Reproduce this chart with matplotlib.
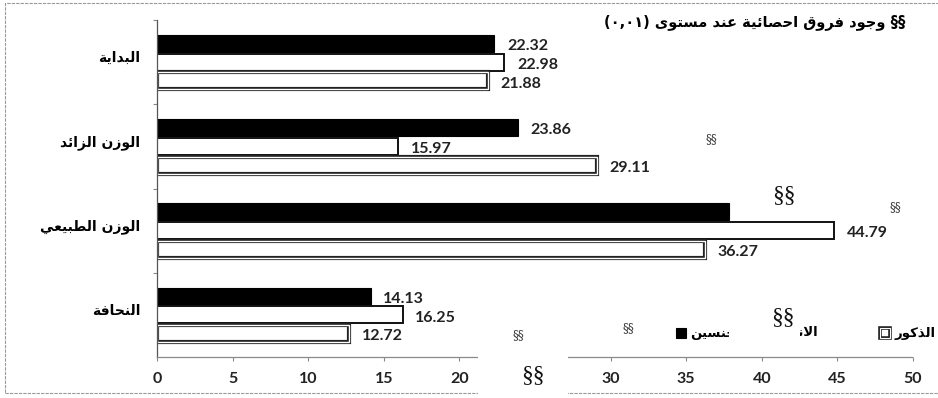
import numpy as np
import matplotlib
matplotlib.use("Agg")
import matplotlib.pyplot as plt
from matplotlib.patches import Rectangle
from matplotlib.transforms import blended_transform_factory

# weight classes, top to bottom
categories = ["البداية", "الوزن الزائد", "الوزن الطبيعي", "النحافة"]
both = [22.32, 23.86, 37.8, 14.13]
females = [22.98, 15.97, 44.79, 16.25]
males = [21.88, 29.11, 36.27, 12.72]
hidden_both_label = [False, False, True, False]
xticks = [0, 5, 10, 15, 20, 25, 30, 35, 40, 45, 50]
xtick_labels = ["0", "5", "10", "15", "20", "", "30", "35", "40", "45", "50"]

legend_names = ["الجنسين", "الاناث", "الذكور"]
note = "§§ وجود فروق احصائية عند مستوى (٠,٠١)"

W, H = 938, 398

# minimal Arabic shaping: isolated, final, initial, medial
FORMS = {
    "ا": ("\uFE8D", "\uFE8E", None, None),
    "إ": ("\uFE87", "\uFE88", None, None),
    "ب": ("\uFE8F", "\uFE90", "\uFE91", "\uFE92"),
    "ة": ("\uFE93", "\uFE94", None, None),
    "ت": ("\uFE95", "\uFE96", "\uFE97", "\uFE98"),
    "ث": ("\uFE99", "\uFE9A", "\uFE9B", "\uFE9C"),
    "ج": ("\uFE9D", "\uFE9E", "\uFE9F", "\uFEA0"),
    "ح": ("\uFEA1", "\uFEA2", "\uFEA3", "\uFEA4"),
    "د": ("\uFEA9", "\uFEAA", None, None),
    "ذ": ("\uFEAB", "\uFEAC", None, None),
    "ر": ("\uFEAD", "\uFEAE", None, None),
    "ز": ("\uFEAF", "\uFEB0", None, None),
    "س": ("\uFEB1", "\uFEB2", "\uFEB3", "\uFEB4"),
    "ص": ("\uFEB9", "\uFEBA", "\uFEBB", "\uFEBC"),
    "ط": ("\uFEC1", "\uFEC2", "\uFEC3", "\uFEC4"),
    "ع": ("\uFEC9", "\uFECA", "\uFECB", "\uFECC"),
    "ف": ("\uFED1", "\uFED2", "\uFED3", "\uFED4"),
    "ق": ("\uFED5", "\uFED6", "\uFED7", "\uFED8"),
    "ك": ("\uFED9", "\uFEDA", "\uFEDB", "\uFEDC"),
    "ل": ("\uFEDD", "\uFEDE", "\uFEDF", "\uFEE0"),
    "م": ("\uFEE1", "\uFEE2", "\uFEE3", "\uFEE4"),
    "ن": ("\uFEE5", "\uFEE6", "\uFEE7", "\uFEE8"),
    "و": ("\uFEED", "\uFEEE", None, None),
    "ى": ("\uFEEF", "\uFEF0", "\uFBE8", "\uFBE9"),
    "ي": ("\uFEF1", "\uFEF2", "\uFEF3", "\uFEF4"),
    "ئ": ("\uFE89", "\uFE8A", "\uFE8B", "\uFE8C"),
}
LAM_ALEF = {"ا": ("\uFEFB", "\uFEFC"), "إ": ("\uFEF9", "\uFEFA")}


def shape_word(word):
    out = []
    i = 0
    while i < len(word):
        c = word[i]
        forms = FORMS.get(c)
        if forms is None:
            out.append(c)
            i += 1
            continue
        prev = word[i - 1] if i > 0 else ""
        joins_prev = prev in FORMS and FORMS[prev][2] is not None
        if c == "ل" and i + 1 < len(word) and word[i + 1] in LAM_ALEF:
            out.append(LAM_ALEF[word[i + 1]][1 if joins_prev else 0])
            i += 2
            continue
        nxt = word[i + 1] if i + 1 < len(word) else ""
        joins_next = forms[2] is not None and nxt in FORMS
        if joins_prev and joins_next:
            out.append(forms[3])
        elif joins_prev:
            out.append(forms[1])
        elif joins_next:
            out.append(forms[2])
        else:
            out.append(forms[0])
        i += 1
    return "".join(reversed(out))


def rtl(text):
    parts = []
    for w in text.split(" "):
        parts.append(shape_word(w) if any(ch in FORMS for ch in w) else w)
    return " ".join(reversed(parts))


def fx(x):
    return x / W


def fy(y):
    return 1 - y / H


fig = plt.figure(figsize=(W / 100, H / 100), dpi=100)
fig.patch.set_facecolor("white")

# outer chart frame
fig.add_artist(Rectangle((fx(5), fy(393)), fx(960) - fx(5), fy(3) - fy(393),
                         transform=fig.transFigure, fill=False,
                         edgecolor="#9a9a9a", lw=0.8, ls=(0, (3, 1))))

ax = fig.add_axes([fx(157), fy(357), fx(913) - fx(157), fy(20) - fy(357)])
ax.set_xlim(0, 50)
ax.set_ylim(3.5, -0.5)

y = np.arange(len(categories))
off, h = 0.222, 0.2
ax.barh(y - off, both, height=h, color="black", edgecolor="black", lw=0.8)
ax.barh(y, females, height=h, color="white", edgecolor="#111111", lw=1.4)
ax.barh(y + off, males, height=h, color="white", edgecolor="#222222", lw=3.0)
ax.barh(y + off, males, height=h, color="none", edgecolor="white", lw=1.0)

label_kw = dict(textcoords="offset points", va="center", ha="left",
                fontsize=11.5, fontweight="bold", family="Lato", color="#222222")
for i in range(len(categories)):
    if not hidden_both_label[i]:
        ax.annotate(f"{both[i]:.2f}", (both[i], y[i] - off), xytext=(9, -2), **label_kw)
    ax.annotate(f"{females[i]:.2f}", (females[i], y[i]), xytext=(9, -2), **label_kw)
    ax.annotate(f"{males[i]:.2f}", (males[i], y[i] + off), xytext=(9, -2), **label_kw)

for s in ("top", "right"):
    ax.spines[s].set_visible(False)
ax.spines["left"].set_color("#555555")
ax.spines["left"].set_linewidth(0.9)
ax.spines["bottom"].set_color("#8a8a8a")
ax.spines["bottom"].set_linewidth(0.9)
ax.spines["bottom"].set_linestyle((0, (4, 1)))

ax.set_xticks(xticks)
ax.set_xticklabels(xtick_labels, fontsize=11.5, fontweight="bold",
                   family="Lato", color="#222222")
ax.tick_params(axis="x", length=3, width=0.8, color="#888888", pad=8)
ax.set_yticks([-0.5, 0.5, 1.5, 2.5])
ax.set_yticklabels([])
ax.tick_params(axis="y", length=3, width=0.8, color="#888888")

tr = blended_transform_factory(ax.transAxes, ax.transData)
for i, cat in enumerate(categories):
    ax.text(-0.022, y[i] - 0.05, rtl(cat), transform=tr, ha="right", va="center",
            fontsize=10, fontweight="bold", family="DejaVu Sans")

# note at the top right
fig.text(fx(905), fy(22), rtl(note), ha="right", va="center",
         fontsize=10.5, fontweight="bold", family="DejaVu Sans")

# legend, right to left: marker sits left of each name
legend_items = [("male", 935), ("female", 818), ("both", 745)]
for (kind, right), name in zip(legend_items, reversed(legend_names)):
    t = fig.text(fx(right), fy(333), rtl(name), ha="right", va="center",
                 fontsize=9.5, fontweight="bold", family="DejaVu Sans")
    fig.canvas.draw()
    bb = t.get_window_extent()
    mx = bb.x0 - 14
    my = H - 338
    if kind == "both":
        fig.add_artist(Rectangle((mx / W, my / H), 10 / W, 10 / H, transform=fig.transFigure,
                                 facecolor="black", edgecolor="black", lw=0.8))
    elif kind == "female":
        fig.add_artist(Rectangle((mx / W, my / H), 10 / W, 10 / H, transform=fig.transFigure,
                                 facecolor="white", edgecolor="black", lw=1.2))
    else:
        fig.add_artist(Rectangle((mx / W, my / H), 10 / W, 10 / H, transform=fig.transFigure,
                                 facecolor="white", edgecolor="#222222", lw=2.6))
        fig.add_artist(Rectangle((mx / W, my / H), 10 / W, 10 / H, transform=fig.transFigure,
                                 facecolor="none", edgecolor="white", lw=0.8))

# pasted white patches carrying the significance marks
for x0, y0, x1, y1 in [(740, 178, 805, 217), (729, 298, 800, 345), (478, 350, 568, 398)]:
    fig.add_artist(Rectangle((fx(x0), fy(y1)), fx(x1) - fx(x0), fy(y0) - fy(y1),
                             transform=fig.transFigure, facecolor="white",
                             edgecolor="none", zorder=10))

for x, yy in [(784, 196), (783, 318), (533, 376)]:
    fig.text(fx(x), fy(yy), "§§", ha="center", va="center", fontsize=17,
             family="Liberation Serif", color="#111111", zorder=11)
for x, yy in [(711, 140), (895, 208), (628, 329), (518, 336)]:
    fig.text(fx(x), fy(yy), "§§", ha="center", va="center", fontsize=8.5,
             family="DejaVu Serif", color="#333333", zorder=11)

fig.savefig("out.png", dpi=100)
